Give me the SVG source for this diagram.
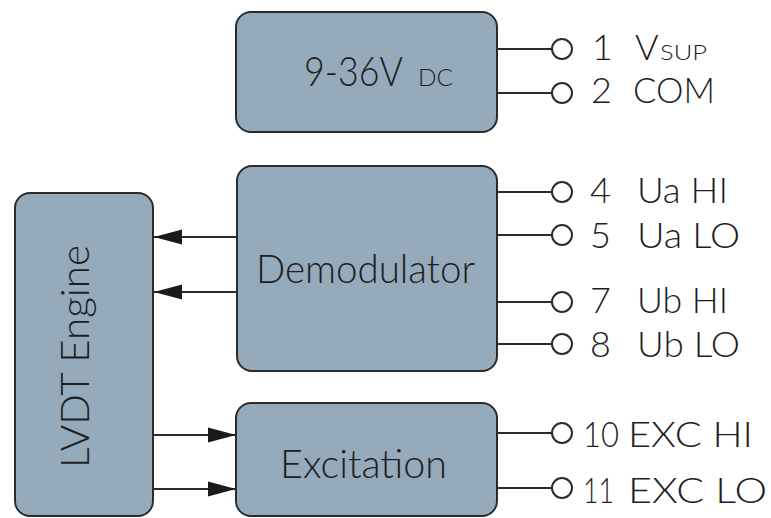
<svg xmlns="http://www.w3.org/2000/svg" width="771" height="518" viewBox="0 0 771 518">
<defs>
<style>
.box{fill:#95aabb;stroke:#2b2b2b;stroke-width:2}
.wire{stroke:#2b2b2b;stroke-width:2;fill:none}
.pin{fill:#fff;stroke:#2b2b2b;stroke-width:2}
.t{font-family:"Lato","Liberation Sans",Arial,sans-serif;font-weight:300;fill:#1e1e1e}
.lbl{font-family:"Lato","Liberation Sans",Arial,sans-serif;font-weight:300;fill:#1e1e1e;font-size:36px}
</style>
<marker id="ah" markerUnits="userSpaceOnUse" markerWidth="28" markerHeight="16" refX="28" refY="8" orient="auto">
<path d="M0,0.5 L28,8 L0,15.5 z" fill="#1a1a1a"/>
</marker>
</defs>
<rect width="771" height="518" fill="#fff"/>

<g id="connectors">
<line class="wire" x1="497" y1="49" x2="552" y2="49"/>
<line class="wire" x1="497" y1="93" x2="552" y2="93"/>
<line class="wire" x1="497" y1="192" x2="552" y2="192"/>
<line class="wire" x1="497" y1="235" x2="552" y2="235"/>
<line class="wire" x1="497" y1="302" x2="552" y2="302"/>
<line class="wire" x1="497" y1="344" x2="552" y2="344"/>
<line class="wire" x1="497" y1="433" x2="552" y2="433"/>
<line class="wire" x1="497" y1="488" x2="552" y2="488"/>
<line class="wire" x1="237" y1="237" x2="154" y2="237" marker-end="url(#ah)"/>
<line class="wire" x1="237" y1="292" x2="154" y2="292" marker-end="url(#ah)"/>
<line class="wire" x1="153" y1="435" x2="236" y2="435" marker-end="url(#ah)"/>
<line class="wire" x1="153" y1="489" x2="236" y2="489" marker-end="url(#ah)"/>
</g>

<g id="supply">
<rect class="box" x="236" y="12" width="261" height="120" rx="15"/>
<text class="t" x="304" y="86" font-size="42" textLength="99" lengthAdjust="spacingAndGlyphs">9-36V</text>
<text class="t" x="418" y="86" font-size="23" textLength="35" lengthAdjust="spacingAndGlyphs">DC</text>
</g>

<g id="demodulator">
<rect class="box" x="237" y="166" width="260" height="205" rx="15"/>
<text class="t" x="256" y="283" font-size="39" textLength="219" lengthAdjust="spacingAndGlyphs">Demodulator</text>
</g>

<g id="lvdt-engine">
<rect class="box" x="15" y="193" width="138" height="323" rx="15"/>
<text class="t" transform="translate(89,468) rotate(-90)" x="0" y="0" font-size="39" textLength="223" lengthAdjust="spacingAndGlyphs">LVDT Engine</text>
</g>

<g id="excitation">
<rect class="box" x="236" y="403" width="261" height="113" rx="15"/>
<text class="t" x="280" y="478" font-size="39" textLength="167" lengthAdjust="spacingAndGlyphs">Excitation</text>
</g>

<g id="pin1">
<circle class="pin" cx="562" cy="49" r="10"/>
<text class="lbl" x="592" y="60">1</text>
<text class="lbl" x="635" y="60">V</text>
<text class="t" x="660" y="60" font-size="21" textLength="47" lengthAdjust="spacingAndGlyphs">SUP</text>
</g>
<g id="pin2">
<circle class="pin" cx="562" cy="93" r="10"/>
<text class="lbl" x="591" y="103">2</text>
<text class="lbl" x="633" y="103" textLength="82" lengthAdjust="spacingAndGlyphs">COM</text>
</g>
<g id="pin4">
<circle class="pin" cx="562" cy="192" r="10"/>
<text class="lbl" x="590" y="203">4</text>
<text class="lbl" x="637" y="203" textLength="91" lengthAdjust="spacingAndGlyphs">Ua HI</text>
</g>
<g id="pin5">
<circle class="pin" cx="562" cy="235" r="10"/>
<text class="lbl" x="590" y="248">5</text>
<text class="lbl" x="637" y="248" textLength="103" lengthAdjust="spacingAndGlyphs">Ua LO</text>
</g>
<g id="pin7">
<circle class="pin" cx="562" cy="302" r="10"/>
<text class="lbl" x="590" y="313">7</text>
<text class="lbl" x="637" y="313" textLength="91" lengthAdjust="spacingAndGlyphs">Ub HI</text>
</g>
<g id="pin8">
<circle class="pin" cx="562" cy="344" r="10"/>
<text class="lbl" x="590" y="357">8</text>
<text class="lbl" x="637" y="357" textLength="103" lengthAdjust="spacingAndGlyphs">Ub LO</text>
</g>
<g id="pin10">
<circle class="pin" cx="562" cy="433" r="10"/>
<text class="lbl" x="583" y="447" font-size="38" textLength="36" lengthAdjust="spacingAndGlyphs">10</text>
<text class="lbl" x="628" y="447" font-size="38" textLength="125" lengthAdjust="spacingAndGlyphs">EXC HI</text>
</g>
<g id="pin11">
<circle class="pin" cx="562" cy="488" r="10"/>
<text class="lbl" x="583" y="503" font-size="38" textLength="31" lengthAdjust="spacingAndGlyphs">11</text>
<text class="lbl" x="628" y="503" font-size="38" textLength="139" lengthAdjust="spacingAndGlyphs">EXC LO</text>
</g>
</svg>
